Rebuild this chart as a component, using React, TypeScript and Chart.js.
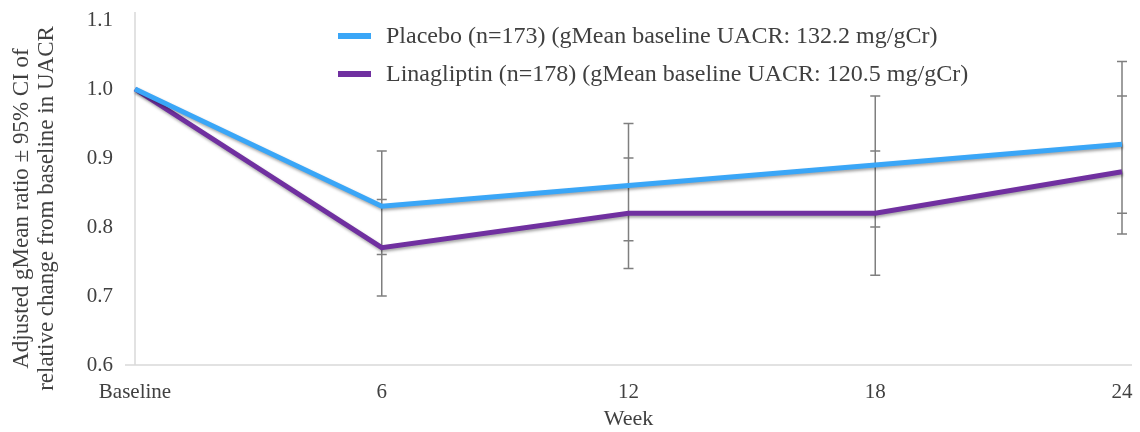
import React, { useEffect, useRef } from "react";
import { Chart, registerables } from "chart.js";

Chart.register(...registerables);

const categories = ["Baseline", "6", "12", "18", "24"];
const placeboLabel = "Placebo (n=173) (gMean baseline UACR: 132.2 mg/gCr)";
const linaLabel = "Linagliptin (n=178) (gMean baseline UACR: 120.5 mg/gCr)";
const placeboMean = [1.0, 0.83, 0.86, 0.89, 0.92];
const placeboLower = [null, 0.76, 0.78, 0.8, 0.82];
const placeboUpper = [null, 0.91, 0.95, 0.99, 1.04];
const linaMean = [1.0, 0.77, 0.82, 0.82, 0.88];
const linaLower = [null, 0.7, 0.74, 0.73, 0.79];
const linaUpper = [null, 0.84, 0.9, 0.91, 0.99];
const yTicks = [0.6, 0.7, 0.8, 0.9, 1.0, 1.1];
const yTitleLines = [
  "Adjusted gMean ratio \u00B1 95% CI of",
  "relative change from baseline in UACR",
];

const PLACEBO_COLOR = "#3AA6F7";
const LINA_COLOR = "#7030A0";
const TEXT_COLOR = "#404040";
const FONT = "'Liberation Serif', 'Times New Roman', serif";

const axesPlugin = {
  id: "axesLines",
  beforeDatasetsDraw(chart: any) {
    const { ctx, chartArea } = chart;
    ctx.save();
    ctx.strokeStyle = "#d9d9d9";
    ctx.lineWidth = 1.5;
    ctx.beginPath();
    ctx.moveTo(chartArea.left, chartArea.top - 8);
    ctx.lineTo(chartArea.left, chartArea.bottom);
    ctx.moveTo(chartArea.left - 10, chartArea.bottom);
    ctx.lineTo(chartArea.right + 10, chartArea.bottom);
    ctx.stroke();
    ctx.restore();
  },
};

const yTitlePlugin = {
  id: "yTitle",
  afterDraw(chart: any) {
    const { ctx, chartArea } = chart;
    const cy = (chartArea.top + chartArea.bottom) / 2 + 16;
    ctx.save();
    ctx.fillStyle = TEXT_COLOR;
    ctx.font = `23px ${FONT}`;
    ctx.textAlign = "center";
    ctx.textBaseline = "middle";
    yTitleLines.forEach((line, k) => {
      ctx.save();
      ctx.translate(22 + k * 25, cy);
      ctx.rotate(-Math.PI / 2);
      ctx.fillText(line, 0, 0);
      ctx.restore();
    });
    ctx.restore();
  },
};

const errorBarPlugin = {
  id: "errorBars",
  beforeDatasetsDraw(chart: any) {
    const { ctx } = chart;
    const xs = chart.scales.x;
    const ys = chart.scales.y;
    ctx.save();
    ctx.strokeStyle = "#7f7f7f";
    ctx.lineWidth = 1.5;
    categories.forEach((_, i) => {
      const vals = [placeboLower[i], placeboUpper[i], linaLower[i], linaUpper[i]].filter(
        (v) => v !== null
      ) as number[];
      if (!vals.length) return;
      const x = xs.getPixelForValue(i);
      const lo = Math.min(...vals);
      const hi = Math.max(...vals);
      ctx.beginPath();
      ctx.moveTo(x, ys.getPixelForValue(lo));
      ctx.lineTo(x, ys.getPixelForValue(hi));
      vals.forEach((v) => {
        const y = ys.getPixelForValue(v);
        ctx.moveTo(x - 5, y);
        ctx.lineTo(x + 5, y);
      });
      ctx.stroke();
    });
    ctx.restore();
  },
};

const shadowPlugin = {
  id: "lineShadow",
  beforeDatasetDraw(chart: any) {
    const ctx = chart.ctx;
    ctx.save();
    ctx.shadowColor = "rgba(0,0,0,0.35)";
    ctx.shadowBlur = 3;
    ctx.shadowOffsetX = 1;
    ctx.shadowOffsetY = 2;
  },
  afterDatasetDraw(chart: any) {
    chart.ctx.restore();
  },
};

const legendPlugin = {
  id: "innerLegend",
  afterDatasetsDraw(chart: any) {
    const { ctx, chartArea } = chart;
    const items = [
      { label: placeboLabel, color: PLACEBO_COLOR },
      { label: linaLabel, color: LINA_COLOR },
    ];
    ctx.save();
    const x0 = chartArea.left + 203;
    items.forEach((it, k) => {
      const y = chartArea.top + 16 + k * 38;
      ctx.strokeStyle = it.color;
      ctx.lineWidth = 6;
      ctx.beginPath();
      ctx.moveTo(x0, y);
      ctx.lineTo(x0 + 33, y);
      ctx.stroke();
      ctx.fillStyle = TEXT_COLOR;
      ctx.font = `24px ${FONT}`;
      ctx.textBaseline = "middle";
      ctx.textAlign = "left";
      ctx.fillText(it.label, x0 + 48, y + 1);
    });
    ctx.restore();
  },
};

export default function App() {
  const ref = useRef<HTMLCanvasElement | null>(null);
  useEffect(() => {
    if (!ref.current) return;
    const chart = new Chart(ref.current, {
      type: "line",
      data: {
        labels: categories,
        datasets: [
          {
            label: placeboLabel,
            data: placeboMean,
            borderColor: PLACEBO_COLOR,
            backgroundColor: PLACEBO_COLOR,
            borderWidth: 5,
            pointRadius: 0,
            tension: 0,
            fill: false,
          },
          {
            label: linaLabel,
            data: linaMean,
            borderColor: LINA_COLOR,
            backgroundColor: LINA_COLOR,
            borderWidth: 5,
            pointRadius: 0,
            tension: 0,
            fill: false,
          },
        ],
      },
      options: {
        animation: false,
        responsive: false,
        layout: { padding: { top: 20, right: 18, left: 0, bottom: 0 } },
        plugins: {
          legend: { display: false },
          tooltip: { enabled: false },
        },
        scales: {
          x: {
            type: "category",
            offset: false,
            grid: { display: false, drawTicks: false },
            border: { display: false },
            ticks: {
              color: TEXT_COLOR,
              font: { family: FONT, size: 21 },
              padding: 15,
              maxRotation: 0,
              autoSkip: false,
            },
            title: {
              display: true,
              text: "Week",
              color: TEXT_COLOR,
              font: { family: FONT, size: 22 },
              padding: { top: 0, bottom: 0 },
            },
            afterFit(scale: any) {
              scale.height = 67;
              scale.paddingLeft = 0;
              scale.paddingRight = 0;
            },
          },
          y: {
            min: 0.6,
            max: 1.1,
            grid: { display: false, drawTicks: false },
            border: { display: false },
            afterBuildTicks(scale: any) {
              scale.ticks = yTicks.map((v) => ({ value: v }));
            },
            ticks: {
              color: TEXT_COLOR,
              font: { family: FONT, size: 21 },
              padding: 22,
              callback: (v: any) => Number(v).toFixed(1),
            },
            title: { display: false },
            afterFit(scale: any) {
              scale.width = 135;
              scale.paddingTop = 0;
              scale.paddingBottom = 0;
            },
          },
        },
      },
      plugins: [axesPlugin, errorBarPlugin, shadowPlugin, legendPlugin, yTitlePlugin],
    });
    return () => chart.destroy();
  }, []);
  return (
    <div style={{ position: "fixed", left: 0, top: 0, width: 1140, height: 432, background: "#fff" }}>
      <canvas ref={ref} width={1140} height={432} style={{ display: "block" }} />
    </div>
  );
}
